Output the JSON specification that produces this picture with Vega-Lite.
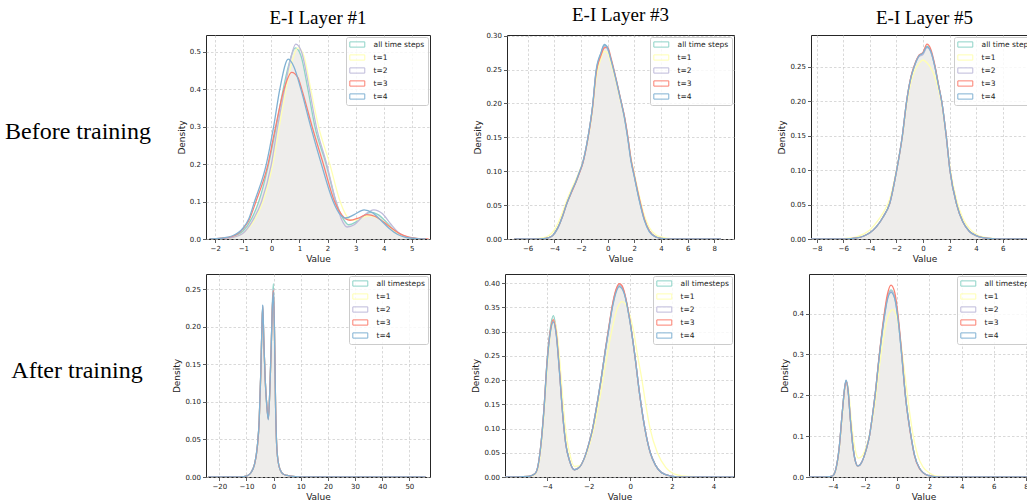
{
"$schema":"https://vega.github.io/schema/vega-lite/v6.json",
"padding":{"left":5,"top":5,"right":5,"bottom":5},
"background":"white",
"config":{
 "font":"DejaVu Sans",
 "view":{"stroke":"#262626","strokeWidth":1},
 "axis":{"domain":false,"tickColor":"#333","tickSize":3.5,"tickWidth":0.8,"labelFont":"DejaVu Sans","labelFontSize":7,"labelColor":"#222","labelPadding":2,"labelFlush":false,"labelOverlap":false,"titleFont":"DejaVu Sans","titleFontSize":9,"titleFontWeight":"normal","titleColor":"#222","titlePadding":3,"gridColor":"#c8c8c8","gridDash":[2.5,2],"gridWidth":0.7},
 "title":{"font":"Liberation Serif","fontSize":19,"fontWeight":"normal","color":"#000","offset":7,"anchor":"middle"}
},
"datasets":{
"a1":[
{"s":"all time steps","x":-2.2,"y":0},{"s":"all time steps","x":-1.8,"y":0.001},{"s":"all time steps","x":-1.4,"y":0.006},{"s":"all time steps","x":-1.0,"y":0.022},{"s":"all time steps","x":-0.7,"y":0.055},{"s":"all time steps","x":-0.45,"y":0.1},{"s":"all time steps","x":-0.1,"y":0.2},{"s":"all time steps","x":0.17,"y":0.3},{"s":"all time steps","x":0.42,"y":0.4},{"s":"all time steps","x":0.6,"y":0.46},{"s":"all time steps","x":0.85,"y":0.51},{"s":"all time steps","x":1.05,"y":0.49},{"s":"all time steps","x":1.3,"y":0.4},{"s":"all time steps","x":1.55,"y":0.3},{"s":"all time steps","x":1.95,"y":0.2},{"s":"all time steps","x":2.3,"y":0.1},{"s":"all time steps","x":2.55,"y":0.055},{"s":"all time steps","x":2.75,"y":0.038},{"s":"all time steps","x":3.0,"y":0.045},{"s":"all time steps","x":3.25,"y":0.06},{"s":"all time steps","x":3.55,"y":0.072},{"s":"all time steps","x":3.8,"y":0.065},{"s":"all time steps","x":4.1,"y":0.045},{"s":"all time steps","x":4.4,"y":0.022},{"s":"all time steps","x":4.7,"y":0.008},{"s":"all time steps","x":5.0,"y":0.002},{"s":"all time steps","x":5.4,"y":0},
{"s":"t=1","x":-2.2,"y":0},{"s":"t=1","x":-1.8,"y":0.001},{"s":"t=1","x":-1.4,"y":0.004},{"s":"t=1","x":-1.0,"y":0.016},{"s":"t=1","x":-0.7,"y":0.04},{"s":"t=1","x":-0.3,"y":0.1},{"s":"t=1","x":0.05,"y":0.2},{"s":"t=1","x":0.28,"y":0.3},{"s":"t=1","x":0.52,"y":0.4},{"s":"t=1","x":0.72,"y":0.47},{"s":"t=1","x":0.95,"y":0.51},{"s":"t=1","x":1.15,"y":0.49},{"s":"t=1","x":1.4,"y":0.4},{"s":"t=1","x":1.68,"y":0.3},{"s":"t=1","x":2.08,"y":0.2},{"s":"t=1","x":2.45,"y":0.1},{"s":"t=1","x":2.65,"y":0.065},{"s":"t=1","x":2.85,"y":0.05},{"s":"t=1","x":3.1,"y":0.052},{"s":"t=1","x":3.45,"y":0.062},{"s":"t=1","x":3.75,"y":0.058},{"s":"t=1","x":4.1,"y":0.04},{"s":"t=1","x":4.4,"y":0.02},{"s":"t=1","x":4.7,"y":0.008},{"s":"t=1","x":5.0,"y":0.002},{"s":"t=1","x":5.4,"y":0},
{"s":"t=2","x":-2.2,"y":0},{"s":"t=2","x":-1.8,"y":0.001},{"s":"t=2","x":-1.4,"y":0.004},{"s":"t=2","x":-1.0,"y":0.016},{"s":"t=2","x":-0.7,"y":0.045},{"s":"t=2","x":-0.35,"y":0.1},{"s":"t=2","x":0.0,"y":0.2},{"s":"t=2","x":0.22,"y":0.3},{"s":"t=2","x":0.47,"y":0.4},{"s":"t=2","x":0.65,"y":0.47},{"s":"t=2","x":0.87,"y":0.52},{"s":"t=2","x":1.07,"y":0.5},{"s":"t=2","x":1.35,"y":0.4},{"s":"t=2","x":1.6,"y":0.3},{"s":"t=2","x":1.97,"y":0.2},{"s":"t=2","x":2.3,"y":0.1},{"s":"t=2","x":2.5,"y":0.052},{"s":"t=2","x":2.7,"y":0.032},{"s":"t=2","x":2.95,"y":0.038},{"s":"t=2","x":3.25,"y":0.06},{"s":"t=2","x":3.65,"y":0.078},{"s":"t=2","x":3.95,"y":0.068},{"s":"t=2","x":4.25,"y":0.04},{"s":"t=2","x":4.55,"y":0.016},{"s":"t=2","x":4.85,"y":0.005},{"s":"t=2","x":5.2,"y":0.001},{"s":"t=2","x":5.5,"y":0},
{"s":"t=3","x":-2.2,"y":0},{"s":"t=3","x":-1.8,"y":0.002},{"s":"t=3","x":-1.4,"y":0.007},{"s":"t=3","x":-1.0,"y":0.028},{"s":"t=3","x":-0.8,"y":0.05},{"s":"t=3","x":-0.55,"y":0.1},{"s":"t=3","x":-0.12,"y":0.2},{"s":"t=3","x":0.15,"y":0.3},{"s":"t=3","x":0.45,"y":0.4},{"s":"t=3","x":0.72,"y":0.445},{"s":"t=3","x":0.95,"y":0.43},{"s":"t=3","x":1.08,"y":0.4},{"s":"t=3","x":1.45,"y":0.3},{"s":"t=3","x":1.85,"y":0.2},{"s":"t=3","x":2.25,"y":0.1},{"s":"t=3","x":2.5,"y":0.065},{"s":"t=3","x":2.8,"y":0.05},{"s":"t=3","x":3.1,"y":0.056},{"s":"t=3","x":3.4,"y":0.065},{"s":"t=3","x":3.7,"y":0.06},{"s":"t=3","x":4.0,"y":0.045},{"s":"t=3","x":4.3,"y":0.028},{"s":"t=3","x":4.6,"y":0.013},{"s":"t=3","x":4.9,"y":0.005},{"s":"t=3","x":5.3,"y":0.001},{"s":"t=3","x":5.6,"y":0},
{"s":"t=4","x":-2.2,"y":0},{"s":"t=4","x":-1.8,"y":0.002},{"s":"t=4","x":-1.4,"y":0.008},{"s":"t=4","x":-1.0,"y":0.03},{"s":"t=4","x":-0.8,"y":0.055},{"s":"t=4","x":-0.6,"y":0.1},{"s":"t=4","x":-0.18,"y":0.2},{"s":"t=4","x":0.08,"y":0.3},{"s":"t=4","x":0.3,"y":0.4},{"s":"t=4","x":0.6,"y":0.48},{"s":"t=4","x":0.8,"y":0.46},{"s":"t=4","x":1.05,"y":0.4},{"s":"t=4","x":1.4,"y":0.3},{"s":"t=4","x":1.78,"y":0.2},{"s":"t=4","x":2.2,"y":0.1},{"s":"t=4","x":2.45,"y":0.065},{"s":"t=4","x":2.65,"y":0.056},{"s":"t=4","x":2.95,"y":0.065},{"s":"t=4","x":3.3,"y":0.078},{"s":"t=4","x":3.6,"y":0.07},{"s":"t=4","x":3.9,"y":0.05},{"s":"t=4","x":4.2,"y":0.028},{"s":"t=4","x":4.5,"y":0.012},{"s":"t=4","x":4.8,"y":0.004},{"s":"t=4","x":5.2,"y":0.001},{"s":"t=4","x":5.5,"y":0}
],
"a3":[
{"s":"all time steps","x":-7,"y":0},{"s":"all time steps","x":-5.5,"y":0},{"s":"all time steps","x":-4.8,"y":0.0005},{"s":"all time steps","x":-4.5,"y":0.0015},{"s":"all time steps","x":-4.125,"y":0.005},{"s":"all time steps","x":-3.75,"y":0.016},{"s":"all time steps","x":-3.375,"y":0.034},{"s":"all time steps","x":-3.05,"y":0.053},{"s":"all time steps","x":-2.75,"y":0.068},{"s":"all time steps","x":-2.375,"y":0.085},{"s":"all time steps","x":-2.125,"y":0.098},{"s":"all time steps","x":-1.875,"y":0.112},{"s":"all time steps","x":-1.5,"y":0.147},{"s":"all time steps","x":-1.125,"y":0.196},{"s":"all time steps","x":-0.875,"y":0.245},{"s":"all time steps","x":-0.5,"y":0.274},{"s":"all time steps","x":-0.25,"y":0.286},{"s":"all time steps","x":0,"y":0.281},{"s":"all time steps","x":0.25,"y":0.264},{"s":"all time steps","x":0.625,"y":0.235},{"s":"all time steps","x":1.0,"y":0.203},{"s":"all time steps","x":1.25,"y":0.181},{"s":"all time steps","x":1.5,"y":0.151},{"s":"all time steps","x":1.75,"y":0.117},{"s":"all time steps","x":2.0,"y":0.093},{"s":"all time steps","x":2.375,"y":0.058},{"s":"all time steps","x":2.75,"y":0.029},{"s":"all time steps","x":3.125,"y":0.012},{"s":"all time steps","x":3.625,"y":0.003},{"s":"all time steps","x":4.0,"y":0.001},{"s":"all time steps","x":4.8,"y":0},{"s":"all time steps","x":8.5,"y":0},
{"s":"t=1","x":-7,"y":0},{"s":"t=1","x":-5.5,"y":0.0005},{"s":"t=1","x":-4.8,"y":0.002},{"s":"t=1","x":-4.5,"y":0.004},{"s":"t=1","x":-4.125,"y":0.01},{"s":"t=1","x":-3.75,"y":0.022},{"s":"t=1","x":-3.375,"y":0.04},{"s":"t=1","x":-3.05,"y":0.058},{"s":"t=1","x":-2.75,"y":0.072},{"s":"t=1","x":-2.375,"y":0.088},{"s":"t=1","x":-2.125,"y":0.1},{"s":"t=1","x":-1.875,"y":0.113},{"s":"t=1","x":-1.5,"y":0.145},{"s":"t=1","x":-1.125,"y":0.19},{"s":"t=1","x":-0.875,"y":0.235},{"s":"t=1","x":-0.5,"y":0.266},{"s":"t=1","x":-0.25,"y":0.277},{"s":"t=1","x":0,"y":0.274},{"s":"t=1","x":0.25,"y":0.259},{"s":"t=1","x":0.625,"y":0.232},{"s":"t=1","x":1.0,"y":0.2},{"s":"t=1","x":1.25,"y":0.18},{"s":"t=1","x":1.5,"y":0.152},{"s":"t=1","x":1.75,"y":0.12},{"s":"t=1","x":2.0,"y":0.097},{"s":"t=1","x":2.375,"y":0.064},{"s":"t=1","x":2.75,"y":0.035},{"s":"t=1","x":3.125,"y":0.017},{"s":"t=1","x":3.625,"y":0.006},{"s":"t=1","x":4.0,"y":0.003},{"s":"t=1","x":4.8,"y":0.0005},{"s":"t=1","x":8.5,"y":0},
{"s":"t=2","x":-7,"y":0},{"s":"t=2","x":-5.5,"y":0},{"s":"t=2","x":-4.8,"y":0.0005},{"s":"t=2","x":-4.5,"y":0.0015},{"s":"t=2","x":-4.125,"y":0.005},{"s":"t=2","x":-3.75,"y":0.016},{"s":"t=2","x":-3.375,"y":0.034},{"s":"t=2","x":-3.05,"y":0.053},{"s":"t=2","x":-2.75,"y":0.068},{"s":"t=2","x":-2.375,"y":0.085},{"s":"t=2","x":-2.125,"y":0.098},{"s":"t=2","x":-1.875,"y":0.112},{"s":"t=2","x":-1.5,"y":0.147},{"s":"t=2","x":-1.125,"y":0.196},{"s":"t=2","x":-0.875,"y":0.245},{"s":"t=2","x":-0.5,"y":0.273},{"s":"t=2","x":-0.25,"y":0.284},{"s":"t=2","x":0,"y":0.28},{"s":"t=2","x":0.25,"y":0.264},{"s":"t=2","x":0.625,"y":0.235},{"s":"t=2","x":1.0,"y":0.203},{"s":"t=2","x":1.25,"y":0.181},{"s":"t=2","x":1.5,"y":0.151},{"s":"t=2","x":1.75,"y":0.117},{"s":"t=2","x":2.0,"y":0.093},{"s":"t=2","x":2.375,"y":0.058},{"s":"t=2","x":2.75,"y":0.029},{"s":"t=2","x":3.125,"y":0.012},{"s":"t=2","x":3.625,"y":0.003},{"s":"t=2","x":4.0,"y":0.001},{"s":"t=2","x":4.8,"y":0},{"s":"t=2","x":8.5,"y":0},
{"s":"t=3","x":-7,"y":0},{"s":"t=3","x":-5.5,"y":0},{"s":"t=3","x":-4.8,"y":0.0005},{"s":"t=3","x":-4.5,"y":0.0015},{"s":"t=3","x":-4.125,"y":0.005},{"s":"t=3","x":-3.75,"y":0.016},{"s":"t=3","x":-3.375,"y":0.034},{"s":"t=3","x":-3.05,"y":0.053},{"s":"t=3","x":-2.75,"y":0.067},{"s":"t=3","x":-2.375,"y":0.084},{"s":"t=3","x":-2.125,"y":0.097},{"s":"t=3","x":-1.875,"y":0.111},{"s":"t=3","x":-1.5,"y":0.146},{"s":"t=3","x":-1.125,"y":0.195},{"s":"t=3","x":-0.875,"y":0.243},{"s":"t=3","x":-0.5,"y":0.271},{"s":"t=3","x":-0.25,"y":0.282},{"s":"t=3","x":0,"y":0.283},{"s":"t=3","x":0.25,"y":0.267},{"s":"t=3","x":0.625,"y":0.237},{"s":"t=3","x":1.0,"y":0.204},{"s":"t=3","x":1.25,"y":0.182},{"s":"t=3","x":1.5,"y":0.153},{"s":"t=3","x":1.75,"y":0.118},{"s":"t=3","x":2.0,"y":0.094},{"s":"t=3","x":2.375,"y":0.06},{"s":"t=3","x":2.75,"y":0.03},{"s":"t=3","x":3.125,"y":0.012},{"s":"t=3","x":3.625,"y":0.003},{"s":"t=3","x":4.0,"y":0.001},{"s":"t=3","x":4.8,"y":0},{"s":"t=3","x":8.5,"y":0},
{"s":"t=4","x":-7,"y":0},{"s":"t=4","x":-5.5,"y":0},{"s":"t=4","x":-4.8,"y":0.0005},{"s":"t=4","x":-4.5,"y":0.0015},{"s":"t=4","x":-4.125,"y":0.005},{"s":"t=4","x":-3.75,"y":0.016},{"s":"t=4","x":-3.375,"y":0.034},{"s":"t=4","x":-3.05,"y":0.053},{"s":"t=4","x":-2.75,"y":0.068},{"s":"t=4","x":-2.375,"y":0.085},{"s":"t=4","x":-2.125,"y":0.098},{"s":"t=4","x":-1.875,"y":0.112},{"s":"t=4","x":-1.5,"y":0.147},{"s":"t=4","x":-1.125,"y":0.197},{"s":"t=4","x":-0.875,"y":0.247},{"s":"t=4","x":-0.5,"y":0.275},{"s":"t=4","x":-0.25,"y":0.287},{"s":"t=4","x":0,"y":0.282},{"s":"t=4","x":0.25,"y":0.265},{"s":"t=4","x":0.625,"y":0.236},{"s":"t=4","x":1.0,"y":0.203},{"s":"t=4","x":1.25,"y":0.18},{"s":"t=4","x":1.5,"y":0.15},{"s":"t=4","x":1.75,"y":0.115},{"s":"t=4","x":2.0,"y":0.092},{"s":"t=4","x":2.375,"y":0.057},{"s":"t=4","x":2.75,"y":0.028},{"s":"t=4","x":3.125,"y":0.011},{"s":"t=4","x":3.625,"y":0.003},{"s":"t=4","x":4.0,"y":0.001},{"s":"t=4","x":4.8,"y":0},{"s":"t=4","x":8.5,"y":0}
],
"a5":[
{"s":"all time steps","x":-8.5,"y":0},{"s":"all time steps","x":-6,"y":0},{"s":"all time steps","x":-5.5,"y":0.0005},{"s":"all time steps","x":-5,"y":0.0015},{"s":"all time steps","x":-4.5,"y":0.004},{"s":"all time steps","x":-4,"y":0.009},{"s":"all time steps","x":-3.5,"y":0.018},{"s":"all time steps","x":-3,"y":0.032},{"s":"all time steps","x":-2.5,"y":0.052},{"s":"all time steps","x":-2,"y":0.098},{"s":"all time steps","x":-1.55,"y":0.15},{"s":"all time steps","x":-1.23,"y":0.2},{"s":"all time steps","x":-0.9,"y":0.235},{"s":"all time steps","x":-0.67,"y":0.25},{"s":"all time steps","x":-0.3,"y":0.266},{"s":"all time steps","x":0,"y":0.27},{"s":"all time steps","x":0.3,"y":0.28},{"s":"all time steps","x":0.6,"y":0.272},{"s":"all time steps","x":0.9,"y":0.25},{"s":"all time steps","x":1.15,"y":0.225},{"s":"all time steps","x":1.41,"y":0.2},{"s":"all time steps","x":1.75,"y":0.15},{"s":"all time steps","x":2.03,"y":0.1},{"s":"all time steps","x":2.54,"y":0.05},{"s":"all time steps","x":3.0,"y":0.025},{"s":"all time steps","x":3.5,"y":0.011},{"s":"all time steps","x":4.0,"y":0.005},{"s":"all time steps","x":4.5,"y":0.002},{"s":"all time steps","x":5.5,"y":0.0003},{"s":"all time steps","x":6.5,"y":0},{"s":"all time steps","x":9,"y":0},
{"s":"t=1","x":-8.5,"y":0},{"s":"t=1","x":-6,"y":0.0005},{"s":"t=1","x":-5.5,"y":0.0015},{"s":"t=1","x":-5,"y":0.003},{"s":"t=1","x":-4.5,"y":0.007},{"s":"t=1","x":-4,"y":0.013},{"s":"t=1","x":-3.5,"y":0.024},{"s":"t=1","x":-3,"y":0.038},{"s":"t=1","x":-2.5,"y":0.058},{"s":"t=1","x":-2,"y":0.1},{"s":"t=1","x":-1.55,"y":0.148},{"s":"t=1","x":-1.23,"y":0.195},{"s":"t=1","x":-0.9,"y":0.228},{"s":"t=1","x":-0.67,"y":0.242},{"s":"t=1","x":-0.3,"y":0.255},{"s":"t=1","x":0,"y":0.26},{"s":"t=1","x":0.3,"y":0.256},{"s":"t=1","x":0.6,"y":0.248},{"s":"t=1","x":0.9,"y":0.235},{"s":"t=1","x":1.15,"y":0.218},{"s":"t=1","x":1.41,"y":0.196},{"s":"t=1","x":1.75,"y":0.15},{"s":"t=1","x":2.03,"y":0.105},{"s":"t=1","x":2.54,"y":0.056},{"s":"t=1","x":3.0,"y":0.03},{"s":"t=1","x":3.5,"y":0.015},{"s":"t=1","x":4.0,"y":0.007},{"s":"t=1","x":4.5,"y":0.003},{"s":"t=1","x":5.5,"y":0.0005},{"s":"t=1","x":6.5,"y":0},{"s":"t=1","x":9,"y":0},
{"s":"t=2","x":-8.5,"y":0},{"s":"t=2","x":-6,"y":0},{"s":"t=2","x":-5.5,"y":0.0005},{"s":"t=2","x":-5,"y":0.0015},{"s":"t=2","x":-4.5,"y":0.004},{"s":"t=2","x":-4,"y":0.009},{"s":"t=2","x":-3.5,"y":0.018},{"s":"t=2","x":-3,"y":0.032},{"s":"t=2","x":-2.5,"y":0.052},{"s":"t=2","x":-2,"y":0.098},{"s":"t=2","x":-1.55,"y":0.15},{"s":"t=2","x":-1.23,"y":0.2},{"s":"t=2","x":-0.9,"y":0.235},{"s":"t=2","x":-0.67,"y":0.25},{"s":"t=2","x":-0.3,"y":0.265},{"s":"t=2","x":0,"y":0.268},{"s":"t=2","x":0.3,"y":0.278},{"s":"t=2","x":0.6,"y":0.271},{"s":"t=2","x":0.9,"y":0.25},{"s":"t=2","x":1.15,"y":0.225},{"s":"t=2","x":1.41,"y":0.2},{"s":"t=2","x":1.75,"y":0.15},{"s":"t=2","x":2.03,"y":0.1},{"s":"t=2","x":2.54,"y":0.05},{"s":"t=2","x":3.0,"y":0.025},{"s":"t=2","x":3.5,"y":0.011},{"s":"t=2","x":4.0,"y":0.005},{"s":"t=2","x":4.5,"y":0.002},{"s":"t=2","x":5.5,"y":0.0003},{"s":"t=2","x":6.5,"y":0},{"s":"t=2","x":9,"y":0},
{"s":"t=3","x":-8.5,"y":0},{"s":"t=3","x":-6,"y":0},{"s":"t=3","x":-5.5,"y":0.0005},{"s":"t=3","x":-5,"y":0.0015},{"s":"t=3","x":-4.5,"y":0.004},{"s":"t=3","x":-4,"y":0.009},{"s":"t=3","x":-3.5,"y":0.018},{"s":"t=3","x":-3,"y":0.032},{"s":"t=3","x":-2.5,"y":0.052},{"s":"t=3","x":-2,"y":0.098},{"s":"t=3","x":-1.55,"y":0.15},{"s":"t=3","x":-1.23,"y":0.2},{"s":"t=3","x":-0.9,"y":0.236},{"s":"t=3","x":-0.67,"y":0.251},{"s":"t=3","x":-0.3,"y":0.267},{"s":"t=3","x":0,"y":0.271},{"s":"t=3","x":0.3,"y":0.283},{"s":"t=3","x":0.6,"y":0.275},{"s":"t=3","x":0.9,"y":0.252},{"s":"t=3","x":1.15,"y":0.226},{"s":"t=3","x":1.41,"y":0.2},{"s":"t=3","x":1.75,"y":0.15},{"s":"t=3","x":2.03,"y":0.1},{"s":"t=3","x":2.54,"y":0.05},{"s":"t=3","x":3.0,"y":0.025},{"s":"t=3","x":3.5,"y":0.011},{"s":"t=3","x":4.0,"y":0.005},{"s":"t=3","x":4.5,"y":0.002},{"s":"t=3","x":5.5,"y":0.0003},{"s":"t=3","x":6.5,"y":0},{"s":"t=3","x":9,"y":0},
{"s":"t=4","x":-8.5,"y":0},{"s":"t=4","x":-6,"y":0},{"s":"t=4","x":-5.5,"y":0.0005},{"s":"t=4","x":-5,"y":0.0015},{"s":"t=4","x":-4.5,"y":0.004},{"s":"t=4","x":-4,"y":0.009},{"s":"t=4","x":-3.5,"y":0.018},{"s":"t=4","x":-3,"y":0.032},{"s":"t=4","x":-2.5,"y":0.052},{"s":"t=4","x":-2,"y":0.098},{"s":"t=4","x":-1.55,"y":0.15},{"s":"t=4","x":-1.23,"y":0.2},{"s":"t=4","x":-0.9,"y":0.235},{"s":"t=4","x":-0.67,"y":0.25},{"s":"t=4","x":-0.3,"y":0.266},{"s":"t=4","x":0,"y":0.27},{"s":"t=4","x":0.3,"y":0.279},{"s":"t=4","x":0.6,"y":0.272},{"s":"t=4","x":0.9,"y":0.25},{"s":"t=4","x":1.15,"y":0.225},{"s":"t=4","x":1.41,"y":0.2},{"s":"t=4","x":1.75,"y":0.15},{"s":"t=4","x":2.03,"y":0.1},{"s":"t=4","x":2.54,"y":0.05},{"s":"t=4","x":3.0,"y":0.025},{"s":"t=4","x":3.5,"y":0.011},{"s":"t=4","x":4.0,"y":0.005},{"s":"t=4","x":4.5,"y":0.002},{"s":"t=4","x":5.5,"y":0.0003},{"s":"t=4","x":6.5,"y":0},{"s":"t=4","x":9,"y":0}
],
"b1":[
{"s":"all timesteps","x":-24,"y":0},{"s":"all timesteps","x":-21,"y":0},{"s":"all timesteps","x":-13,"y":0},{"s":"all timesteps","x":-11,"y":0.0005},{"s":"all timesteps","x":-9.5,"y":0.002},{"s":"all timesteps","x":-8.3,"y":0.006},{"s":"all timesteps","x":-7.1,"y":0.016},{"s":"all timesteps","x":-6,"y":0.04},{"s":"all timesteps","x":-5.3,"y":0.075},{"s":"all timesteps","x":-4.7,"y":0.14},{"s":"all timesteps","x":-4.3,"y":0.2},{"s":"all timesteps","x":-4.0,"y":0.228},{"s":"all timesteps","x":-3.6,"y":0.18},{"s":"all timesteps","x":-3.1,"y":0.13},{"s":"all timesteps","x":-2.5,"y":0.095},{"s":"all timesteps","x":-1.95,"y":0.078},{"s":"all timesteps","x":-1.4,"y":0.115},{"s":"all timesteps","x":-0.9,"y":0.17},{"s":"all timesteps","x":-0.5,"y":0.225},{"s":"all timesteps","x":-0.1,"y":0.257},{"s":"all timesteps","x":0.3,"y":0.2},{"s":"all timesteps","x":0.7,"y":0.1},{"s":"all timesteps","x":1.1,"y":0.045},{"s":"all timesteps","x":1.7,"y":0.02},{"s":"all timesteps","x":2.5,"y":0.009},{"s":"all timesteps","x":3.5,"y":0.004},{"s":"all timesteps","x":5,"y":0.002},{"s":"all timesteps","x":8,"y":0.0005},{"s":"all timesteps","x":12,"y":0},{"s":"all timesteps","x":30,"y":0},{"s":"all timesteps","x":56,"y":0},
{"s":"t=1","x":-24,"y":0},{"s":"t=1","x":-21,"y":0},{"s":"t=1","x":-13,"y":0},{"s":"t=1","x":-11,"y":0.0005},{"s":"t=1","x":-9.5,"y":0.002},{"s":"t=1","x":-8.3,"y":0.006},{"s":"t=1","x":-7.1,"y":0.016},{"s":"t=1","x":-6,"y":0.04},{"s":"t=1","x":-5.3,"y":0.074},{"s":"t=1","x":-4.7,"y":0.138},{"s":"t=1","x":-4.3,"y":0.197},{"s":"t=1","x":-4.0,"y":0.224},{"s":"t=1","x":-3.6,"y":0.178},{"s":"t=1","x":-3.1,"y":0.13},{"s":"t=1","x":-2.5,"y":0.095},{"s":"t=1","x":-1.95,"y":0.079},{"s":"t=1","x":-1.4,"y":0.113},{"s":"t=1","x":-0.9,"y":0.166},{"s":"t=1","x":-0.5,"y":0.218},{"s":"t=1","x":-0.1,"y":0.245},{"s":"t=1","x":0.3,"y":0.196},{"s":"t=1","x":0.7,"y":0.1},{"s":"t=1","x":1.1,"y":0.046},{"s":"t=1","x":1.7,"y":0.02},{"s":"t=1","x":2.5,"y":0.009},{"s":"t=1","x":3.5,"y":0.004},{"s":"t=1","x":5,"y":0.002},{"s":"t=1","x":8,"y":0.0005},{"s":"t=1","x":12,"y":0},{"s":"t=1","x":30,"y":0},{"s":"t=1","x":56,"y":0},
{"s":"t=2","x":-24,"y":0},{"s":"t=2","x":-21,"y":0},{"s":"t=2","x":-13,"y":0},{"s":"t=2","x":-11,"y":0.0005},{"s":"t=2","x":-9.5,"y":0.002},{"s":"t=2","x":-8.3,"y":0.006},{"s":"t=2","x":-7.1,"y":0.016},{"s":"t=2","x":-6,"y":0.04},{"s":"t=2","x":-5.3,"y":0.075},{"s":"t=2","x":-4.7,"y":0.14},{"s":"t=2","x":-4.3,"y":0.2},{"s":"t=2","x":-4.0,"y":0.228},{"s":"t=2","x":-3.6,"y":0.18},{"s":"t=2","x":-3.1,"y":0.13},{"s":"t=2","x":-2.5,"y":0.095},{"s":"t=2","x":-1.95,"y":0.078},{"s":"t=2","x":-1.4,"y":0.115},{"s":"t=2","x":-0.9,"y":0.17},{"s":"t=2","x":-0.5,"y":0.223},{"s":"t=2","x":-0.1,"y":0.25},{"s":"t=2","x":0.3,"y":0.198},{"s":"t=2","x":0.7,"y":0.1},{"s":"t=2","x":1.1,"y":0.045},{"s":"t=2","x":1.7,"y":0.02},{"s":"t=2","x":2.5,"y":0.009},{"s":"t=2","x":3.5,"y":0.004},{"s":"t=2","x":5,"y":0.002},{"s":"t=2","x":8,"y":0.0005},{"s":"t=2","x":12,"y":0},{"s":"t=2","x":30,"y":0},{"s":"t=2","x":56,"y":0},
{"s":"t=3","x":-24,"y":0},{"s":"t=3","x":-21,"y":0},{"s":"t=3","x":-13,"y":0},{"s":"t=3","x":-11,"y":0.0005},{"s":"t=3","x":-9.5,"y":0.002},{"s":"t=3","x":-8.3,"y":0.006},{"s":"t=3","x":-7.1,"y":0.016},{"s":"t=3","x":-6,"y":0.04},{"s":"t=3","x":-5.3,"y":0.075},{"s":"t=3","x":-4.7,"y":0.14},{"s":"t=3","x":-4.3,"y":0.199},{"s":"t=3","x":-4.0,"y":0.226},{"s":"t=3","x":-3.6,"y":0.18},{"s":"t=3","x":-3.1,"y":0.13},{"s":"t=3","x":-2.5,"y":0.095},{"s":"t=3","x":-1.95,"y":0.077},{"s":"t=3","x":-1.4,"y":0.115},{"s":"t=3","x":-0.9,"y":0.17},{"s":"t=3","x":-0.5,"y":0.222},{"s":"t=3","x":-0.1,"y":0.248},{"s":"t=3","x":0.3,"y":0.198},{"s":"t=3","x":0.7,"y":0.1},{"s":"t=3","x":1.1,"y":0.045},{"s":"t=3","x":1.7,"y":0.02},{"s":"t=3","x":2.5,"y":0.009},{"s":"t=3","x":3.5,"y":0.004},{"s":"t=3","x":5,"y":0.002},{"s":"t=3","x":8,"y":0.0005},{"s":"t=3","x":12,"y":0},{"s":"t=3","x":30,"y":0},{"s":"t=3","x":56,"y":0},
{"s":"t=4","x":-24,"y":0},{"s":"t=4","x":-21,"y":0},{"s":"t=4","x":-13,"y":0},{"s":"t=4","x":-11,"y":0.0005},{"s":"t=4","x":-9.5,"y":0.002},{"s":"t=4","x":-8.3,"y":0.006},{"s":"t=4","x":-7.1,"y":0.016},{"s":"t=4","x":-6,"y":0.041},{"s":"t=4","x":-5.3,"y":0.076},{"s":"t=4","x":-4.7,"y":0.142},{"s":"t=4","x":-4.3,"y":0.202},{"s":"t=4","x":-4.0,"y":0.229},{"s":"t=4","x":-3.6,"y":0.18},{"s":"t=4","x":-3.1,"y":0.13},{"s":"t=4","x":-2.5,"y":0.094},{"s":"t=4","x":-1.95,"y":0.076},{"s":"t=4","x":-1.4,"y":0.114},{"s":"t=4","x":-0.9,"y":0.17},{"s":"t=4","x":-0.5,"y":0.222},{"s":"t=4","x":-0.1,"y":0.246},{"s":"t=4","x":0.3,"y":0.197},{"s":"t=4","x":0.7,"y":0.1},{"s":"t=4","x":1.1,"y":0.045},{"s":"t=4","x":1.7,"y":0.02},{"s":"t=4","x":2.5,"y":0.009},{"s":"t=4","x":3.5,"y":0.004},{"s":"t=4","x":5,"y":0.002},{"s":"t=4","x":8,"y":0.0005},{"s":"t=4","x":12,"y":0},{"s":"t=4","x":30,"y":0},{"s":"t=4","x":56,"y":0}
],
"b3":[
{"s":"all timesteps","x":-6.5,"y":0},{"s":"all timesteps","x":-5.4,"y":0},{"s":"all timesteps","x":-4.9,"y":0.001},{"s":"all timesteps","x":-4.6,"y":0.006},{"s":"all timesteps","x":-4.45,"y":0.02},{"s":"all timesteps","x":-4.3,"y":0.065},{"s":"all timesteps","x":-4.15,"y":0.14},{"s":"all timesteps","x":-4.0,"y":0.24},{"s":"all timesteps","x":-3.85,"y":0.305},{"s":"all timesteps","x":-3.7,"y":0.333},{"s":"all timesteps","x":-3.55,"y":0.3},{"s":"all timesteps","x":-3.4,"y":0.22},{"s":"all timesteps","x":-3.25,"y":0.13},{"s":"all timesteps","x":-3.1,"y":0.068},{"s":"all timesteps","x":-2.93,"y":0.035},{"s":"all timesteps","x":-2.69,"y":0.015},{"s":"all timesteps","x":-2.45,"y":0.02},{"s":"all timesteps","x":-2.2,"y":0.04},{"s":"all timesteps","x":-1.97,"y":0.072},{"s":"all timesteps","x":-1.81,"y":0.1},{"s":"all timesteps","x":-1.6,"y":0.15},{"s":"all timesteps","x":-1.41,"y":0.2},{"s":"all timesteps","x":-1.2,"y":0.262},{"s":"all timesteps","x":-1.06,"y":0.3},{"s":"all timesteps","x":-0.85,"y":0.355},{"s":"all timesteps","x":-0.68,"y":0.385},{"s":"all timesteps","x":-0.53,"y":0.396},{"s":"all timesteps","x":-0.4,"y":0.392},{"s":"all timesteps","x":-0.29,"y":0.38},{"s":"all timesteps","x":-0.05,"y":0.33},{"s":"all timesteps","x":0.22,"y":0.25},{"s":"all timesteps","x":0.45,"y":0.17},{"s":"all timesteps","x":0.7,"y":0.1},{"s":"all timesteps","x":0.96,"y":0.05},{"s":"all timesteps","x":1.2,"y":0.025},{"s":"all timesteps","x":1.5,"y":0.009},{"s":"all timesteps","x":1.95,"y":0.002},{"s":"all timesteps","x":2.5,"y":0},{"s":"all timesteps","x":5,"y":0},
{"s":"t=1","x":-6.5,"y":0},{"s":"t=1","x":-5.4,"y":0},{"s":"t=1","x":-4.9,"y":0.001},{"s":"t=1","x":-4.6,"y":0.005},{"s":"t=1","x":-4.45,"y":0.016},{"s":"t=1","x":-4.3,"y":0.055},{"s":"t=1","x":-4.15,"y":0.125},{"s":"t=1","x":-4.0,"y":0.22},{"s":"t=1","x":-3.85,"y":0.29},{"s":"t=1","x":-3.68,"y":0.322},{"s":"t=1","x":-3.52,"y":0.298},{"s":"t=1","x":-3.37,"y":0.23},{"s":"t=1","x":-3.22,"y":0.148},{"s":"t=1","x":-3.07,"y":0.085},{"s":"t=1","x":-2.92,"y":0.05},{"s":"t=1","x":-2.69,"y":0.022},{"s":"t=1","x":-2.45,"y":0.023},{"s":"t=1","x":-2.2,"y":0.038},{"s":"t=1","x":-1.97,"y":0.065},{"s":"t=1","x":-1.6,"y":0.13},{"s":"t=1","x":-1.2,"y":0.23},{"s":"t=1","x":-0.9,"y":0.3},{"s":"t=1","x":-0.65,"y":0.345},{"s":"t=1","x":-0.4,"y":0.362},{"s":"t=1","x":-0.15,"y":0.35},{"s":"t=1","x":0.16,"y":0.3},{"s":"t=1","x":0.35,"y":0.25},{"s":"t=1","x":0.56,"y":0.2},{"s":"t=1","x":0.74,"y":0.15},{"s":"t=1","x":0.95,"y":0.1},{"s":"t=1","x":1.3,"y":0.05},{"s":"t=1","x":1.7,"y":0.02},{"s":"t=1","x":2.2,"y":0.005},{"s":"t=1","x":2.8,"y":0.001},{"s":"t=1","x":5,"y":0},
{"s":"t=2","x":-6.5,"y":0},{"s":"t=2","x":-5.4,"y":0},{"s":"t=2","x":-4.9,"y":0.001},{"s":"t=2","x":-4.6,"y":0.006},{"s":"t=2","x":-4.45,"y":0.02},{"s":"t=2","x":-4.3,"y":0.064},{"s":"t=2","x":-4.15,"y":0.138},{"s":"t=2","x":-4.0,"y":0.236},{"s":"t=2","x":-3.85,"y":0.298},{"s":"t=2","x":-3.7,"y":0.322},{"s":"t=2","x":-3.55,"y":0.292},{"s":"t=2","x":-3.4,"y":0.216},{"s":"t=2","x":-3.25,"y":0.13},{"s":"t=2","x":-3.1,"y":0.068},{"s":"t=2","x":-2.93,"y":0.035},{"s":"t=2","x":-2.69,"y":0.015},{"s":"t=2","x":-2.45,"y":0.02},{"s":"t=2","x":-2.2,"y":0.04},{"s":"t=2","x":-1.97,"y":0.072},{"s":"t=2","x":-1.81,"y":0.1},{"s":"t=2","x":-1.6,"y":0.15},{"s":"t=2","x":-1.41,"y":0.2},{"s":"t=2","x":-1.2,"y":0.262},{"s":"t=2","x":-1.06,"y":0.3},{"s":"t=2","x":-0.85,"y":0.356},{"s":"t=2","x":-0.68,"y":0.386},{"s":"t=2","x":-0.53,"y":0.397},{"s":"t=2","x":-0.4,"y":0.393},{"s":"t=2","x":-0.29,"y":0.38},{"s":"t=2","x":-0.05,"y":0.33},{"s":"t=2","x":0.22,"y":0.25},{"s":"t=2","x":0.45,"y":0.17},{"s":"t=2","x":0.7,"y":0.1},{"s":"t=2","x":0.96,"y":0.05},{"s":"t=2","x":1.2,"y":0.025},{"s":"t=2","x":1.5,"y":0.009},{"s":"t=2","x":1.95,"y":0.002},{"s":"t=2","x":2.5,"y":0},{"s":"t=2","x":5,"y":0},
{"s":"t=3","x":-6.5,"y":0},{"s":"t=3","x":-5.4,"y":0},{"s":"t=3","x":-4.9,"y":0.001},{"s":"t=3","x":-4.6,"y":0.006},{"s":"t=3","x":-4.45,"y":0.02},{"s":"t=3","x":-4.3,"y":0.065},{"s":"t=3","x":-4.15,"y":0.139},{"s":"t=3","x":-4.0,"y":0.238},{"s":"t=3","x":-3.85,"y":0.3},{"s":"t=3","x":-3.7,"y":0.325},{"s":"t=3","x":-3.55,"y":0.294},{"s":"t=3","x":-3.4,"y":0.217},{"s":"t=3","x":-3.25,"y":0.13},{"s":"t=3","x":-3.1,"y":0.068},{"s":"t=3","x":-2.93,"y":0.035},{"s":"t=3","x":-2.69,"y":0.015},{"s":"t=3","x":-2.45,"y":0.02},{"s":"t=3","x":-2.2,"y":0.04},{"s":"t=3","x":-1.97,"y":0.072},{"s":"t=3","x":-1.81,"y":0.1},{"s":"t=3","x":-1.6,"y":0.15},{"s":"t=3","x":-1.41,"y":0.2},{"s":"t=3","x":-1.2,"y":0.263},{"s":"t=3","x":-1.06,"y":0.302},{"s":"t=3","x":-0.85,"y":0.358},{"s":"t=3","x":-0.68,"y":0.388},{"s":"t=3","x":-0.53,"y":0.399},{"s":"t=3","x":-0.4,"y":0.395},{"s":"t=3","x":-0.29,"y":0.382},{"s":"t=3","x":-0.05,"y":0.331},{"s":"t=3","x":0.22,"y":0.25},{"s":"t=3","x":0.45,"y":0.17},{"s":"t=3","x":0.7,"y":0.1},{"s":"t=3","x":0.96,"y":0.05},{"s":"t=3","x":1.2,"y":0.025},{"s":"t=3","x":1.5,"y":0.009},{"s":"t=3","x":1.95,"y":0.002},{"s":"t=3","x":2.5,"y":0},{"s":"t=3","x":5,"y":0},
{"s":"t=4","x":-6.5,"y":0},{"s":"t=4","x":-5.4,"y":0},{"s":"t=4","x":-4.9,"y":0.001},{"s":"t=4","x":-4.6,"y":0.006},{"s":"t=4","x":-4.45,"y":0.02},{"s":"t=4","x":-4.3,"y":0.064},{"s":"t=4","x":-4.15,"y":0.137},{"s":"t=4","x":-4.0,"y":0.234},{"s":"t=4","x":-3.85,"y":0.296},{"s":"t=4","x":-3.7,"y":0.32},{"s":"t=4","x":-3.55,"y":0.29},{"s":"t=4","x":-3.4,"y":0.215},{"s":"t=4","x":-3.25,"y":0.13},{"s":"t=4","x":-3.1,"y":0.068},{"s":"t=4","x":-2.93,"y":0.035},{"s":"t=4","x":-2.69,"y":0.015},{"s":"t=4","x":-2.45,"y":0.02},{"s":"t=4","x":-2.2,"y":0.04},{"s":"t=4","x":-1.97,"y":0.072},{"s":"t=4","x":-1.81,"y":0.1},{"s":"t=4","x":-1.6,"y":0.15},{"s":"t=4","x":-1.41,"y":0.2},{"s":"t=4","x":-1.2,"y":0.261},{"s":"t=4","x":-1.06,"y":0.298},{"s":"t=4","x":-0.85,"y":0.352},{"s":"t=4","x":-0.68,"y":0.382},{"s":"t=4","x":-0.53,"y":0.393},{"s":"t=4","x":-0.4,"y":0.389},{"s":"t=4","x":-0.29,"y":0.378},{"s":"t=4","x":-0.05,"y":0.329},{"s":"t=4","x":0.22,"y":0.25},{"s":"t=4","x":0.45,"y":0.17},{"s":"t=4","x":0.7,"y":0.1},{"s":"t=4","x":0.96,"y":0.05},{"s":"t=4","x":1.2,"y":0.025},{"s":"t=4","x":1.5,"y":0.009},{"s":"t=4","x":1.95,"y":0.002},{"s":"t=4","x":2.5,"y":0},{"s":"t=4","x":5,"y":0}
],
"b5":[
{"s":"all timesteps","x":-6,"y":0},{"s":"all timesteps","x":-4.8,"y":0},{"s":"all timesteps","x":-4.2,"y":0.001},{"s":"all timesteps","x":-4.0,"y":0.003},{"s":"all timesteps","x":-3.8,"y":0.02},{"s":"all timesteps","x":-3.6,"y":0.07},{"s":"all timesteps","x":-3.4,"y":0.16},{"s":"all timesteps","x":-3.25,"y":0.22},{"s":"all timesteps","x":-3.17,"y":0.236},{"s":"all timesteps","x":-3.05,"y":0.215},{"s":"all timesteps","x":-2.9,"y":0.14},{"s":"all timesteps","x":-2.76,"y":0.08},{"s":"all timesteps","x":-2.6,"y":0.04},{"s":"all timesteps","x":-2.45,"y":0.027},{"s":"all timesteps","x":-2.3,"y":0.03},{"s":"all timesteps","x":-2.1,"y":0.045},{"s":"all timesteps","x":-1.9,"y":0.07},{"s":"all timesteps","x":-1.72,"y":0.1},{"s":"all timesteps","x":-1.55,"y":0.145},{"s":"all timesteps","x":-1.37,"y":0.2},{"s":"all timesteps","x":-1.1,"y":0.3},{"s":"all timesteps","x":-0.85,"y":0.38},{"s":"all timesteps","x":-0.6,"y":0.44},{"s":"all timesteps","x":-0.38,"y":0.458},{"s":"all timesteps","x":-0.15,"y":0.44},{"s":"all timesteps","x":0.05,"y":0.39},{"s":"all timesteps","x":0.28,"y":0.3},{"s":"all timesteps","x":0.51,"y":0.2},{"s":"all timesteps","x":0.86,"y":0.1},{"s":"all timesteps","x":1.07,"y":0.055},{"s":"all timesteps","x":1.38,"y":0.022},{"s":"all timesteps","x":1.9,"y":0.004},{"s":"all timesteps","x":2.5,"y":0.0005},{"s":"all timesteps","x":3.5,"y":0},{"s":"all timesteps","x":9,"y":0},
{"s":"t=1","x":-6,"y":0},{"s":"t=1","x":-4.8,"y":0},{"s":"t=1","x":-4.2,"y":0.001},{"s":"t=1","x":-4.0,"y":0.003},{"s":"t=1","x":-3.8,"y":0.018},{"s":"t=1","x":-3.6,"y":0.065},{"s":"t=1","x":-3.4,"y":0.15},{"s":"t=1","x":-3.25,"y":0.215},{"s":"t=1","x":-3.15,"y":0.232},{"s":"t=1","x":-3.02,"y":0.215},{"s":"t=1","x":-2.87,"y":0.15},{"s":"t=1","x":-2.72,"y":0.095},{"s":"t=1","x":-2.55,"y":0.058},{"s":"t=1","x":-2.4,"y":0.046},{"s":"t=1","x":-2.2,"y":0.05},{"s":"t=1","x":-2.0,"y":0.065},{"s":"t=1","x":-1.8,"y":0.09},{"s":"t=1","x":-1.6,"y":0.125},{"s":"t=1","x":-1.37,"y":0.18},{"s":"t=1","x":-1.1,"y":0.27},{"s":"t=1","x":-0.85,"y":0.34},{"s":"t=1","x":-0.55,"y":0.395},{"s":"t=1","x":-0.28,"y":0.41},{"s":"t=1","x":-0.05,"y":0.395},{"s":"t=1","x":0.2,"y":0.34},{"s":"t=1","x":0.45,"y":0.26},{"s":"t=1","x":0.7,"y":0.18},{"s":"t=1","x":1.0,"y":0.1},{"s":"t=1","x":1.3,"y":0.05},{"s":"t=1","x":1.6,"y":0.025},{"s":"t=1","x":2.0,"y":0.01},{"s":"t=1","x":2.5,"y":0.002},{"s":"t=1","x":3.5,"y":0},{"s":"t=1","x":9,"y":0},
{"s":"t=2","x":-6,"y":0},{"s":"t=2","x":-4.8,"y":0},{"s":"t=2","x":-4.2,"y":0.001},{"s":"t=2","x":-4.0,"y":0.003},{"s":"t=2","x":-3.8,"y":0.02},{"s":"t=2","x":-3.6,"y":0.07},{"s":"t=2","x":-3.4,"y":0.16},{"s":"t=2","x":-3.25,"y":0.22},{"s":"t=2","x":-3.17,"y":0.235},{"s":"t=2","x":-3.05,"y":0.214},{"s":"t=2","x":-2.9,"y":0.14},{"s":"t=2","x":-2.76,"y":0.08},{"s":"t=2","x":-2.6,"y":0.04},{"s":"t=2","x":-2.45,"y":0.027},{"s":"t=2","x":-2.3,"y":0.03},{"s":"t=2","x":-2.1,"y":0.045},{"s":"t=2","x":-1.9,"y":0.07},{"s":"t=2","x":-1.72,"y":0.1},{"s":"t=2","x":-1.55,"y":0.145},{"s":"t=2","x":-1.37,"y":0.2},{"s":"t=2","x":-1.1,"y":0.3},{"s":"t=2","x":-0.85,"y":0.378},{"s":"t=2","x":-0.6,"y":0.438},{"s":"t=2","x":-0.38,"y":0.455},{"s":"t=2","x":-0.15,"y":0.438},{"s":"t=2","x":0.05,"y":0.389},{"s":"t=2","x":0.28,"y":0.3},{"s":"t=2","x":0.51,"y":0.2},{"s":"t=2","x":0.86,"y":0.1},{"s":"t=2","x":1.07,"y":0.055},{"s":"t=2","x":1.38,"y":0.022},{"s":"t=2","x":1.9,"y":0.004},{"s":"t=2","x":2.5,"y":0.0005},{"s":"t=2","x":3.5,"y":0},{"s":"t=2","x":9,"y":0},
{"s":"t=3","x":-6,"y":0},{"s":"t=3","x":-4.8,"y":0},{"s":"t=3","x":-4.2,"y":0.001},{"s":"t=3","x":-4.0,"y":0.003},{"s":"t=3","x":-3.8,"y":0.02},{"s":"t=3","x":-3.6,"y":0.07},{"s":"t=3","x":-3.4,"y":0.16},{"s":"t=3","x":-3.25,"y":0.219},{"s":"t=3","x":-3.17,"y":0.234},{"s":"t=3","x":-3.05,"y":0.213},{"s":"t=3","x":-2.9,"y":0.14},{"s":"t=3","x":-2.76,"y":0.08},{"s":"t=3","x":-2.6,"y":0.04},{"s":"t=3","x":-2.45,"y":0.027},{"s":"t=3","x":-2.3,"y":0.03},{"s":"t=3","x":-2.1,"y":0.045},{"s":"t=3","x":-1.9,"y":0.07},{"s":"t=3","x":-1.72,"y":0.1},{"s":"t=3","x":-1.55,"y":0.145},{"s":"t=3","x":-1.37,"y":0.2},{"s":"t=3","x":-1.1,"y":0.302},{"s":"t=3","x":-0.85,"y":0.385},{"s":"t=3","x":-0.6,"y":0.448},{"s":"t=3","x":-0.38,"y":0.47},{"s":"t=3","x":-0.15,"y":0.452},{"s":"t=3","x":0.05,"y":0.398},{"s":"t=3","x":0.28,"y":0.305},{"s":"t=3","x":0.51,"y":0.2},{"s":"t=3","x":0.86,"y":0.098},{"s":"t=3","x":1.07,"y":0.053},{"s":"t=3","x":1.38,"y":0.021},{"s":"t=3","x":1.9,"y":0.004},{"s":"t=3","x":2.5,"y":0.0005},{"s":"t=3","x":3.5,"y":0},{"s":"t=3","x":9,"y":0},
{"s":"t=4","x":-6,"y":0},{"s":"t=4","x":-4.8,"y":0},{"s":"t=4","x":-4.2,"y":0.001},{"s":"t=4","x":-4.0,"y":0.003},{"s":"t=4","x":-3.8,"y":0.02},{"s":"t=4","x":-3.6,"y":0.07},{"s":"t=4","x":-3.4,"y":0.16},{"s":"t=4","x":-3.25,"y":0.221},{"s":"t=4","x":-3.17,"y":0.237},{"s":"t=4","x":-3.05,"y":0.215},{"s":"t=4","x":-2.9,"y":0.14},{"s":"t=4","x":-2.76,"y":0.08},{"s":"t=4","x":-2.6,"y":0.04},{"s":"t=4","x":-2.45,"y":0.027},{"s":"t=4","x":-2.3,"y":0.03},{"s":"t=4","x":-2.1,"y":0.045},{"s":"t=4","x":-1.9,"y":0.07},{"s":"t=4","x":-1.72,"y":0.1},{"s":"t=4","x":-1.55,"y":0.145},{"s":"t=4","x":-1.37,"y":0.2},{"s":"t=4","x":-1.1,"y":0.298},{"s":"t=4","x":-0.85,"y":0.376},{"s":"t=4","x":-0.6,"y":0.435},{"s":"t=4","x":-0.38,"y":0.452},{"s":"t=4","x":-0.15,"y":0.437},{"s":"t=4","x":0.05,"y":0.388},{"s":"t=4","x":0.28,"y":0.3},{"s":"t=4","x":0.51,"y":0.2},{"s":"t=4","x":0.86,"y":0.1},{"s":"t=4","x":1.07,"y":0.055},{"s":"t=4","x":1.38,"y":0.022},{"s":"t=4","x":1.9,"y":0.004},{"s":"t=4","x":2.5,"y":0.0005},{"s":"t=4","x":3.5,"y":0},{"s":"t=4","x":9,"y":0}
]
},
"bounds":"full",
"spacing":9,
"resolve":{"scale":{"color":"independent"},"legend":{"color":"independent"}},
"vconcat":[
 {"bounds":"flush","spacing":50,
  "resolve":{"scale":{"color":"independent"},"legend":{"color":"independent"}},
  "hconcat":[
  {"width":150,"height":204,"view":{"stroke":null},
   "data":{"values":[{"label":"Before training"}]},
   "mark":{"type":"text","font":"Liberation Serif","fontSize":24,"color":"#000","dx":-3,"dy":-5},
   "encoding":{"text":{"field":"label","type":"nominal"}}},
  {"bounds":"flush","spacing":77,
   "resolve":{"scale":{"color":"independent"},"legend":{"color":"independent"}},
   "hconcat":[
   {"width":224,"height":204,"title":{"text":"E-I Layer #1"},"data":{"name":"a1"},
    "encoding":{
     "x":{"field":"x","type":"quantitative","scale":{"domain":[-2.33,5.65],"nice":false,"zero":false},"axis":{"title":"Value","values":[-2,-1,0,1,2,3,4,5],"format":"d"}},
     "y":{"field":"y","type":"quantitative","scale":{"domain":[0,0.5445],"nice":false},"axis":{"title":"Density","values":[0,0.1,0.2,0.3,0.4,0.5],"format":".1f"}}},
    "layer":[
     {"transform":[{"filter":"datum.s === 'all time steps'"}],"mark":{"type":"area","color":"#eeedeb","interpolate":"monotone","clip":true}},
     {"mark":{"type":"line","interpolate":"monotone","strokeWidth":1.3,"clip":true},
      "encoding":{"color":{"field":"s","type":"nominal","scale":{"domain":["all time steps","t=1","t=2","t=3","t=4"],"range":["#8dd3c7","#ffffb3","#bebada","#fb8072","#80b1d3"]},
       "legend":{"title":null,"orient":"top-right","offset":2,"padding":3,"rowPadding":2,"labelFont":"DejaVu Sans","labelFontSize":7.5,"labelColor":"#222","labelOffset":11.8,"symbolType":"M-2,-0.7H2V0.7H-2Z","symbolSize":56,"symbolStrokeWidth":1,"symbolOffset":3.8,"fillColor":"rgba(255,255,255,0.8)","strokeColor":"#cccccc","cornerRadius":2}}}}
    ]},
   {"width":227,"height":204,"title":{"text":"E-I Layer #3"},"data":{"name":"a3"},
    "encoding":{
     "x":{"field":"x","type":"quantitative","scale":{"domain":[-7.55,9.48],"nice":false,"zero":false},"axis":{"title":"Value","values":[-6,-4,-2,0,2,4,6,8],"format":"d"}},
     "y":{"field":"y","type":"quantitative","scale":{"domain":[0,0.301],"nice":false},"axis":{"title":"Density","values":[0,0.05,0.1,0.15,0.2,0.25,0.3],"format":".2f"}}},
    "layer":[
     {"transform":[{"filter":"datum.s === 'all time steps'"}],"mark":{"type":"area","color":"#eeedeb","interpolate":"monotone","clip":true}},
     {"mark":{"type":"line","interpolate":"monotone","strokeWidth":1.3,"clip":true},
      "encoding":{"color":{"field":"s","type":"nominal","scale":{"domain":["all time steps","t=1","t=2","t=3","t=4"],"range":["#8dd3c7","#ffffb3","#bebada","#fb8072","#80b1d3"]},
       "legend":{"title":null,"orient":"top-right","offset":2,"padding":3,"rowPadding":2,"labelFont":"DejaVu Sans","labelFontSize":7.5,"labelColor":"#222","labelOffset":11.8,"symbolType":"M-2,-0.7H2V0.7H-2Z","symbolSize":56,"symbolStrokeWidth":1,"symbolOffset":3.8,"fillColor":"rgba(255,255,255,0.8)","strokeColor":"#cccccc","cornerRadius":2}}}}
    ]},
   {"width":227,"height":204,"title":{"text":"E-I Layer #5"},"data":{"name":"a5"},
    "encoding":{
     "x":{"field":"x","type":"quantitative","scale":{"domain":[-8.43,8.66],"nice":false,"zero":false},"axis":{"title":"Value","values":[-8,-6,-4,-2,0,2,4,6,8],"format":"d"}},
     "y":{"field":"y","type":"quantitative","scale":{"domain":[0,0.2963],"nice":false},"axis":{"title":"Density","values":[0,0.05,0.1,0.15,0.2,0.25],"format":".2f"}}},
    "layer":[
     {"transform":[{"filter":"datum.s === 'all time steps'"}],"mark":{"type":"area","color":"#eeedeb","interpolate":"monotone","clip":true}},
     {"mark":{"type":"line","interpolate":"monotone","strokeWidth":1.3,"clip":true},
      "encoding":{"color":{"field":"s","type":"nominal","scale":{"domain":["all time steps","t=1","t=2","t=3","t=4"],"range":["#8dd3c7","#ffffb3","#bebada","#fb8072","#80b1d3"]},
       "legend":{"title":null,"orient":"top-right","offset":2,"padding":3,"rowPadding":2,"labelFont":"DejaVu Sans","labelFontSize":7.5,"labelColor":"#222","labelOffset":11.8,"symbolType":"M-2,-0.7H2V0.7H-2Z","symbolSize":56,"symbolStrokeWidth":1,"symbolOffset":3.8,"fillColor":"rgba(255,255,255,0.8)","strokeColor":"#cccccc","cornerRadius":2}}}}
    ]}
  ]}
 ]},
 {"bounds":"flush","spacing":50,
  "resolve":{"scale":{"color":"independent"},"legend":{"color":"independent"}},
  "hconcat":[
  {"width":150,"height":203,"view":{"stroke":null},
   "data":{"values":[{"label":"After training"}]},
   "mark":{"type":"text","font":"Liberation Serif","fontSize":24,"color":"#000","dx":-4,"dy":-5},
   "encoding":{"text":{"field":"label","type":"nominal"}}},
  {"bounds":"flush","spacing":75,
   "resolve":{"scale":{"color":"independent"},"legend":{"color":"independent"}},
   "hconcat":[
   {"width":224,"height":203,"data":{"name":"b1"},
    "encoding":{
     "x":{"field":"x","type":"quantitative","scale":{"domain":[-24.9,57.6],"nice":false,"zero":false},"axis":{"title":"Value","values":[-20,-10,0,10,20,30,40,50],"format":"d"}},
     "y":{"field":"y","type":"quantitative","scale":{"domain":[0,0.27],"nice":false},"axis":{"title":"Density","values":[0,0.05,0.1,0.15,0.2,0.25],"format":".2f"}}},
    "layer":[
     {"transform":[{"filter":"datum.s === 'all timesteps'"}],"mark":{"type":"area","color":"#eeedeb","interpolate":"monotone","clip":true}},
     {"mark":{"type":"line","interpolate":"monotone","strokeWidth":1.3,"clip":true},
      "encoding":{"color":{"field":"s","type":"nominal","scale":{"domain":["all timesteps","t=1","t=2","t=3","t=4"],"range":["#8dd3c7","#ffffb3","#bebada","#fb8072","#80b1d3"]},
       "legend":{"title":null,"orient":"top-right","offset":2,"padding":3,"rowPadding":2,"labelFont":"DejaVu Sans","labelFontSize":7.5,"labelColor":"#222","labelOffset":11.8,"symbolType":"M-2,-0.7H2V0.7H-2Z","symbolSize":56,"symbolStrokeWidth":1,"symbolOffset":3.8,"fillColor":"rgba(255,255,255,0.8)","strokeColor":"#cccccc","cornerRadius":2}}}}
    ]},
   {"width":229,"height":203,"data":{"name":"b3"},
    "encoding":{
     "x":{"field":"x","type":"quantitative","scale":{"domain":[-6.02,4.98],"nice":false,"zero":false},"axis":{"title":"Value","values":[-4,-2,0,2,4],"format":"d"}},
     "y":{"field":"y","type":"quantitative","scale":{"domain":[0,0.419],"nice":false},"axis":{"title":"Density","values":[0,0.05,0.1,0.15,0.2,0.25,0.3,0.35,0.4],"format":".2f"}}},
    "layer":[
     {"transform":[{"filter":"datum.s === 'all timesteps'"}],"mark":{"type":"area","color":"#eeedeb","interpolate":"monotone","clip":true}},
     {"mark":{"type":"line","interpolate":"monotone","strokeWidth":1.3,"clip":true},
      "encoding":{"color":{"field":"s","type":"nominal","scale":{"domain":["all timesteps","t=1","t=2","t=3","t=4"],"range":["#8dd3c7","#ffffb3","#bebada","#fb8072","#80b1d3"]},
       "legend":{"title":null,"orient":"top-right","offset":2,"padding":3,"rowPadding":2,"labelFont":"DejaVu Sans","labelFontSize":7.5,"labelColor":"#222","labelOffset":11.8,"symbolType":"M-2,-0.7H2V0.7H-2Z","symbolSize":56,"symbolStrokeWidth":1,"symbolOffset":3.8,"fillColor":"rgba(255,255,255,0.8)","strokeColor":"#cccccc","cornerRadius":2}}}}
    ]},
   {"width":229,"height":203,"data":{"name":"b5"},
    "encoding":{
     "x":{"field":"x","type":"quantitative","scale":{"domain":[-5.47,8.74],"nice":false,"zero":false},"axis":{"title":"Value","values":[-4,-2,0,2,4,6,8],"format":"d"}},
     "y":{"field":"y","type":"quantitative","scale":{"domain":[0,0.497],"nice":false},"axis":{"title":"Density","values":[0,0.1,0.2,0.3,0.4],"format":".1f"}}},
    "layer":[
     {"transform":[{"filter":"datum.s === 'all timesteps'"}],"mark":{"type":"area","color":"#eeedeb","interpolate":"monotone","clip":true}},
     {"mark":{"type":"line","interpolate":"monotone","strokeWidth":1.3,"clip":true},
      "encoding":{"color":{"field":"s","type":"nominal","scale":{"domain":["all timesteps","t=1","t=2","t=3","t=4"],"range":["#8dd3c7","#ffffb3","#bebada","#fb8072","#80b1d3"]},
       "legend":{"title":null,"orient":"top-right","offset":2,"padding":3,"rowPadding":2,"labelFont":"DejaVu Sans","labelFontSize":7.5,"labelColor":"#222","labelOffset":11.8,"symbolType":"M-2,-0.7H2V0.7H-2Z","symbolSize":56,"symbolStrokeWidth":1,"symbolOffset":3.8,"fillColor":"rgba(255,255,255,0.8)","strokeColor":"#cccccc","cornerRadius":2}}}}
    ]}
  ]}
 ]}
]
}
